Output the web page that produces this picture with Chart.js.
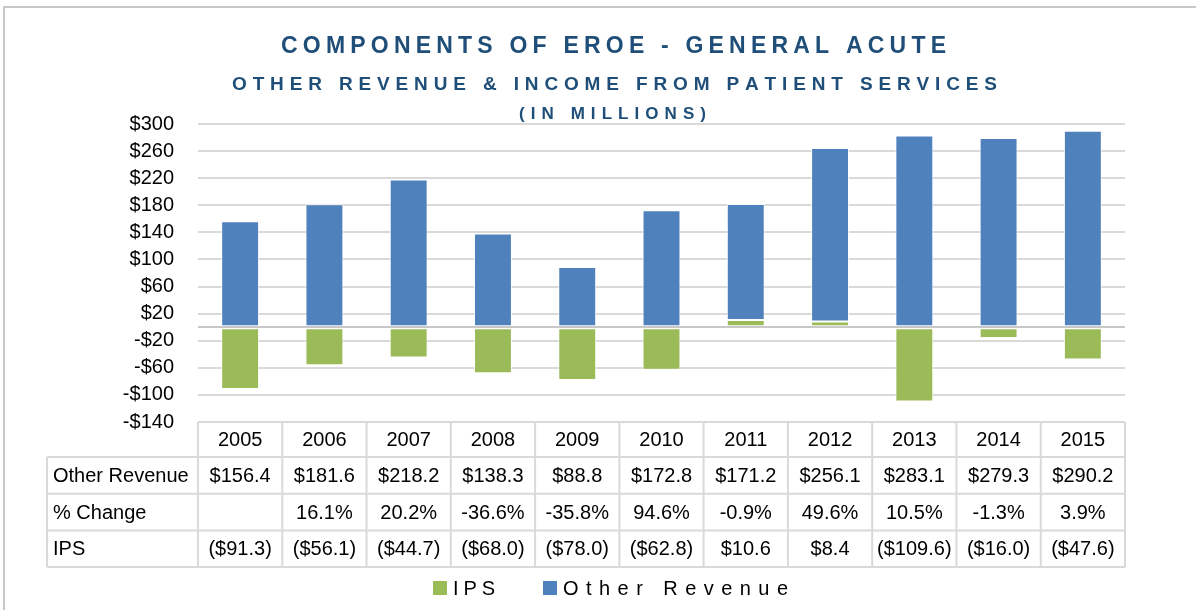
<!DOCTYPE html>
<html>
<head>
<meta charset="utf-8">
<title>Components of EROE - General Acute</title>
<script src="https://cdn.jsdelivr.net/npm/chart.js@4/dist/chart.umd.min.js"></script>
<style>
    html, body { margin: 0; padding: 0; background: #ffffff; }
    canvas { display: block; }
</style>
</head>
<body>
<canvas id="eroeChart" width="1196" height="610"></canvas>
<script>
// =========================
// Chart Data
// =========================

const years = ["2005", "2006", "2007", "2008", "2009", "2010", "2011", "2012", "2013", "2014", "2015"];

const otherRevenue = [156.4, 181.6, 218.2, 138.3, 88.8, 172.8, 171.2, 256.1, 283.1, 279.3, 290.2];

const pctChange = [null, 16.1, 20.2, -36.6, -35.8, 94.6, -0.9, 49.6, 10.5, -1.3, 3.9];

const ips = [-91.3, -56.1, -44.7, -68.0, -78.0, -62.8, 10.6, 8.4, -109.6, -16.0, -47.6];

const yMin = -140;
const yMax = 300;
const yStep = 40;

const titleLines = [
    "COMPONENTS OF EROE - GENERAL ACUTE",
    "OTHER REVENUE & INCOME FROM PATIENT SERVICES",
    "(IN MILLIONS)"
];

const FONT = "'Liberation Sans', Arial, sans-serif";
const TITLE_COLOR = "#1F4E79";
const GRID_COLOR = "#d9d9d9";

// =========================
// Helpers
// =========================

function money(v) {
    if (v < 0) return "($" + (-v).toFixed(1) + ")";
    return "$" + v.toFixed(1);
}

function pct(v) {
    if (v === null) return "";
    return v.toFixed(1) + "%";
}

// draws text letter by letter, spread to a given width
function drawSpaced(ctx, text, left, baseline, width) {
    const chars = text.split("");
    let sum = 0;
    chars.forEach(c => { sum += ctx.measureText(c).width; });
    const gap = chars.length > 1 ? (width - sum) / (chars.length - 1) : 0;
    let x = left;
    ctx.textAlign = "left";
    ctx.textBaseline = "alphabetic";
    chars.forEach(c => {
        ctx.fillText(c, x, baseline);
        x += ctx.measureText(c).width + gap;
    });
}

// =========================
// Plugins
// =========================

const framePlugin = {
    id: "frame",
    beforeDraw(chart) {
        const ctx = chart.ctx;
        ctx.save();
        ctx.fillStyle = "#ffffff";
        ctx.fillRect(0, 0, chart.width, chart.height);
        ctx.strokeStyle = "#c8c8c8";
        ctx.lineWidth = 2;
        ctx.strokeRect(4, 7, chart.width + 20, chart.height + 20);
        ctx.restore();
    }
};

const titlePlugin = {
    id: "titleBlock",
    afterDraw(chart) {
        const ctx = chart.ctx;
        ctx.save();
        ctx.fillStyle = TITLE_COLOR;

        ctx.font = "bold 23px " + FONT;
        drawSpaced(ctx, titleLines[0], 281, 53, 665);

        ctx.font = "bold 19px " + FONT;
        drawSpaced(ctx, titleLines[1], 232, 90, 765);

        ctx.font = "bold 17px " + FONT;
        drawSpaced(ctx, titleLines[2], 519, 119, 187);

        ctx.restore();
    }
};

const tablePlugin = {
    id: "dataTable",
    afterDraw(chart) {
        const ctx = chart.ctx;
        const x = chart.scales.x;
        const area = chart.chartArea;
        const colW = (x.right - x.left) / years.length;
        const labelLeft = 47;
        const headTop = area.bottom;
        const headH = 35;
        const rowH = 36.7;

        const rows = [
            { label: "Other Revenue", values: otherRevenue.map(money) },
            { label: "% Change", values: pctChange.map(pct) },
            { label: "IPS", values: ips.map(money) }
        ];

        ctx.save();
        ctx.strokeStyle = GRID_COLOR;
        ctx.lineWidth = 2;

        // header cells
        ctx.beginPath();
        ctx.moveTo(x.left, headTop);
        ctx.lineTo(x.right, headTop);
        for (let i = 0; i <= years.length; i++) {
            const cx = x.left + i * colW;
            ctx.moveTo(cx, headTop);
            ctx.lineTo(cx, headTop + headH + rows.length * rowH);
        }
        // row lines
        for (let r = 0; r <= rows.length; r++) {
            const ry = headTop + headH + r * rowH;
            ctx.moveTo(labelLeft, ry);
            ctx.lineTo(x.right, ry);
        }
        ctx.moveTo(labelLeft, headTop + headH);
        ctx.lineTo(labelLeft, headTop + headH + rows.length * rowH);
        ctx.stroke();

        ctx.fillStyle = "#000000";
        ctx.font = "20px " + FONT;
        ctx.textBaseline = "middle";

        ctx.textAlign = "center";
        years.forEach((y, i) => {
            ctx.fillText(y, x.getPixelForValue(i), headTop + headH / 2 + 1);
        });

        rows.forEach((row, r) => {
            const cy = headTop + headH + r * rowH + rowH / 2 + 1;
            ctx.textAlign = "left";
            ctx.fillText(row.label, labelLeft + 6, cy);
            ctx.textAlign = "center";
            row.values.forEach((v, i) => {
                ctx.fillText(v, x.getPixelForValue(i), cy);
            });
        });

        ctx.restore();
    }
};

const legendPlugin = {
    id: "spacedLegend",
    afterDraw(chart) {
        const ctx = chart.ctx;
        const sets = chart.data.datasets;
        const items = [
            { ds: sets[0], box: 433, text: 453, width: 42 },
            { ds: sets[1], box: 543, text: 563, width: 225 }
        ];
        ctx.save();
        ctx.font = "20px " + FONT;
        items.forEach(it => {
            ctx.fillStyle = it.ds.backgroundColor;
            ctx.fillRect(it.box, 581, 14, 14);
            ctx.fillStyle = "#000000";
            drawSpaced(ctx, it.ds.label, it.text, 595, it.width);
        });
        ctx.restore();
    }
};

// =========================
// Create Chart
// =========================

const ctx = document.getElementById("eroeChart");

const chart = new Chart(ctx, {
    type: "bar",
    data: {
        labels: years,
        datasets: [
            {
                label: "IPS",
                data: ips,
                backgroundColor: "#9BBB59",
                borderColor: "rgba(255,255,255,0.8)",
                borderWidth: 1,
                borderSkipped: false
            },
            {
                label: "Other Revenue",
                data: otherRevenue,
                backgroundColor: "#4F81BD",
                borderColor: "rgba(255,255,255,0.8)",
                borderWidth: 1,
                borderSkipped: false
            }
        ]
    },
    options: {
        responsive: false,
        animation: false,
        devicePixelRatio: 1,
        layout: {
            padding: { top: 124, right: 71, bottom: 188, left: 0 }
        },
        datasets: {
            bar: {
                barPercentage: 0.45,
                categoryPercentage: 1
            }
        },
        plugins: {
            legend: { display: false },
            title: { display: false },
            tooltip: { enabled: false }
        },
        scales: {
            x: {
                stacked: true,
                display: false
            },
            y: {
                stacked: true,
                min: yMin,
                max: yMax,
                border: { display: false },
                grid: {
                    drawTicks: false,
                    lineWidth: 2,
                    color: c => (c.tick && c.tick.value === 0) ? "#c8c8c8" : GRID_COLOR
                },
                ticks: {
                    stepSize: yStep,
                    autoSkip: false,
                    padding: 24,
                    color: "#000000",
                    font: { family: FONT, size: 20 },
                    callback: v => {
                        if (v === 0) return "";
                        return v < 0 ? "-$" + (-v) : "$" + v;
                    }
                },
                afterBuildTicks: scale => {
                    scale.ticks.push({ value: 0 });
                    scale.ticks.sort((a, b) => a.value - b.value);
                },
                afterFit: scale => {
                    scale.width = 198;
                }
            }
        }
    },
    plugins: [framePlugin, titlePlugin, tablePlugin, legendPlugin]
});
</script>
</body>
</html>
